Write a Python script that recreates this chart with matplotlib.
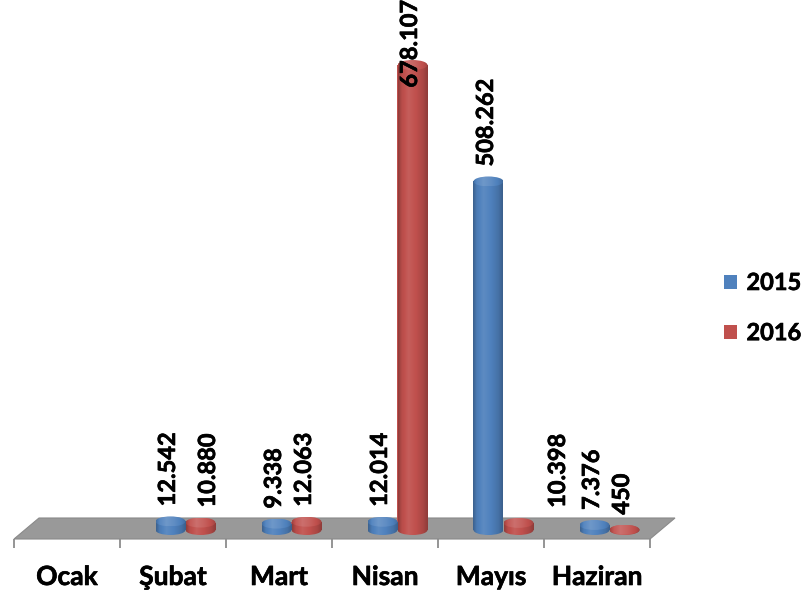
import matplotlib
matplotlib.use('Agg')
import matplotlib.pyplot as plt
import matplotlib.patheffects as pe
import numpy as np
from matplotlib.patches import Polygon, Ellipse, Patch
from matplotlib.colors import to_rgb

# ---------------- data ----------------
months = ['Ocak', 'Şubat', 'Mart', 'Nisan', 'Mayıs', 'Haziran']
series_names = ['2015', '2016']
values_2015 = [None, 12542, 9338, 12014, 508262, 7376]
values_2016 = [None, 10880, 12063, 678107, 10398, 450]

# ---------------- style ----------------
colors = ['#4F81BD', '#C0504D']
FONT = ['Lato', 'DejaVu Sans']
W, H = 804, 595
U = 106.0          # px per category (front edge)
X0 = 14.0          # px of first tick
BASE = 530.0       # px of bar base
S = 678107 / 465.0 # value per px
DEPTH = 25.0       # floor depth offset in px
BAR_W = 30.0       # px
ELL_H = 10.0       # px
LABEL_GAP = 15.0   # px
label_dx = {(1, 1): 7.0, (4, 1): 39.0}   # px nudges like the original
LABEL_DX_DEFAULT = -3.0
THICK = [pe.withStroke(linewidth=0.45, foreground='black')]

def py(p):
    return (BASE - p) * S

def pxd(p):
    return p / U

fig = plt.figure(figsize=(W / 100, H / 100), dpi=100)
ax = fig.add_axes([0, 0, 1, 1])
ax.axis('off')

# floor
floor = Polygon([(0, py(539)), (len(months), py(539)),
                 (len(months) + pxd(DEPTH), py(518)), (pxd(DEPTH), py(518))],
                closed=True, facecolor='#999999', edgecolor='#8a8a8a', lw=0.8, zorder=1)
ax.add_patch(floor)
for i in range(len(months) + 1):
    ax.plot([i, i], [py(539), py(548)], color='#8c8c8c', lw=1.3, zorder=1,
            solid_capstyle='butt')

# category labels
for i, m in enumerate(months):
    ax.text(i + 0.5, py(577), m, ha='center', va='center', fontsize=19,
            fontweight='bold', family=FONT, color='#000000', path_effects=THICK)


def shade(c, f):
    c = np.array(to_rgb(c))
    if f >= 1:
        return c + (1 - c) * (f - 1)
    return c * f

prof_t = np.array([0.0, 0.12, 0.35, 0.6, 0.85, 1.0])
prof_f = np.array([0.75, 0.95, 1.08, 1.0, 0.88, 0.74])


def gradient(c, n=64, lift=0.0):
    t = np.linspace(0, 1, n)
    f = np.interp(t, prof_t, prof_f) + lift
    return np.array([[shade(c, fi) for fi in f]])


bw = pxd(BAR_W)
dx = pxd(DEPTH / 2)
eh = ELL_H * S
all_series = [values_2015, values_2016]
renderer = fig.canvas.get_renderer()
texts = []
for s, vals in enumerate(all_series):
    xs = [i + 0.5 + dx + (s - 0.5) * bw for i in range(len(months))]
    idx = [i for i, v in enumerate(vals) if v is not None]
    bars = ax.bar([xs[i] for i in idx], [vals[i] for i in idx], width=bw,
                  color=colors[s], linewidth=0, zorder=2)
    for j, i in enumerate(idx):
        v = vals[i]
        rect = bars[j]
        x0 = xs[i] - bw / 2
        g = gradient(colors[s])
        im = ax.imshow(g, extent=[x0, x0 + bw, 0, v], aspect='auto',
                       interpolation='bilinear', zorder=3)
        im.set_clip_path(rect)
        bot = Ellipse((xs[i], 0), bw, eh, facecolor='none', edgecolor='none')
        ax.add_patch(bot)
        im2 = ax.imshow(g, extent=[x0, x0 + bw, -eh / 2, eh / 2], aspect='auto',
                        interpolation='bilinear', zorder=2.9)
        im2.set_clip_path(bot)
        top = Ellipse((xs[i], v), bw, eh, facecolor='none', edgecolor='none')
        ax.add_patch(top)
        im3 = ax.imshow(gradient(colors[s], lift=0.1), extent=[x0, x0 + bw, v - eh / 2, v + eh / 2],
                        aspect='auto', interpolation='bilinear', zorder=3.1)
        im3.set_clip_path(top)
        lab = f"{v:,}".replace(',', '.')
        ddx = label_dx.get((i, s), LABEL_DX_DEFAULT)
        t = ax.text(xs[i] + pxd(ddx), v + LABEL_GAP * S, lab, rotation=90,
                    ha='center', va='bottom', fontsize=17, fontweight='bold',
                    family=FONT, color='#000000', zorder=5, path_effects=THICK)
        texts.append(t)

ax.set_xlim(-X0 / U, (W - X0) / U)
ax.set_ylim(-(H - BASE) * S, BASE * S)

# keep labels inside the figure like the original
for t in texts:
    bb = t.get_window_extent(renderer)
    if bb.y1 > H - 1:
        t.set_y(py(0))
        t.set_va('top')

handles = [Patch(facecolor=c, edgecolor='none') for c in colors]
leg = fig.legend(handles, series_names, loc='upper left',
                 bbox_to_anchor=(724 / W, 1 - 271 / H), frameon=False,
                 borderpad=0, borderaxespad=0, handlelength=0.55, handleheight=0.55,
                 handletextpad=0.4, labelspacing=1.15,
                 prop={'family': FONT, 'weight': 'bold', 'size': 17})
for txt in leg.get_texts():
    txt.set_path_effects(THICK)

fig.savefig('out.png', dpi=100)
